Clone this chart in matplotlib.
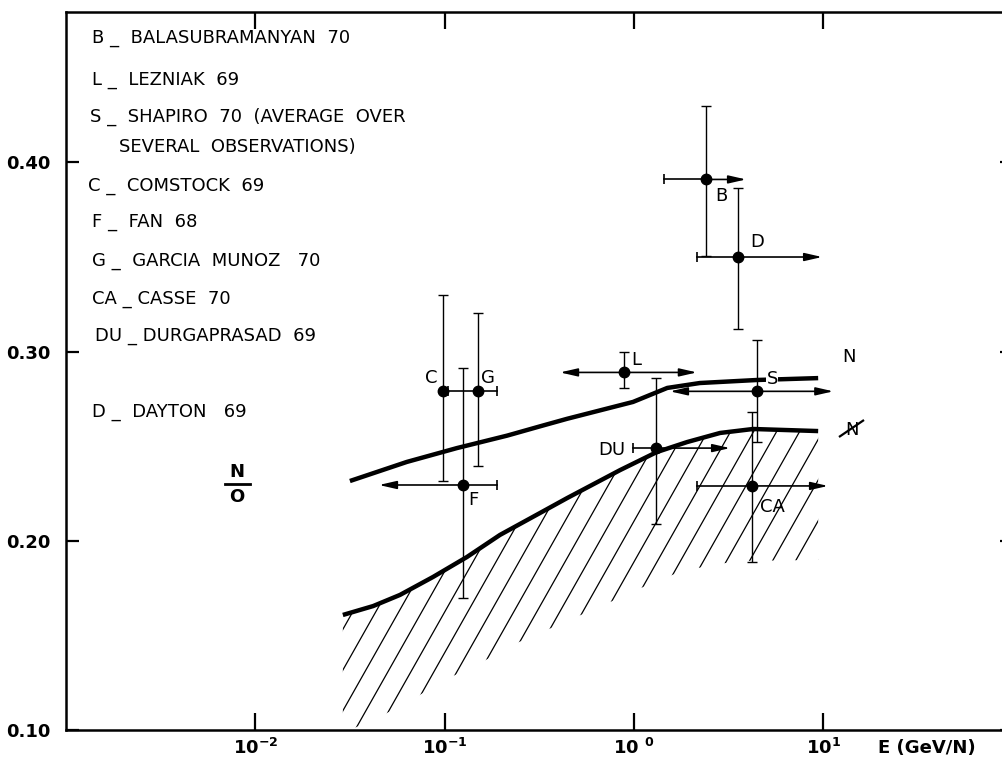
import numpy as np
import matplotlib
matplotlib.use('Agg')
import matplotlib.pyplot as plt
from matplotlib.patches import Polygon
from matplotlib.collections import LineCollection
from matplotlib.lines import Line2D

plt.rcParams['font.family'] = ['DejaVu Sans']
plt.rcParams['mathtext.default'] = 'bf'

# measurements of N/O ratio
labels = ['B', 'D', 'L', 'S', 'DU', 'CA', 'C', 'G', 'F']
energy = [2.40, 3.55, 0.887, 4.47, 1.31, 4.21, 0.098, 0.150, 0.125]
ratio = [0.391, 0.350, 0.289, 0.279, 0.249, 0.229, 0.279, 0.279, 0.2295]
ratio_lo = [0.3505, 0.312, 0.281, 0.252, 0.209, 0.189, 0.2316, 0.2395, 0.170]
ratio_hi = [0.430, 0.3865, 0.300, 0.306, 0.286, 0.268, 0.330, 0.3204, 0.2913]
energy_lo = [1.44, 2.15, 0.407, 1.55, 0.989, 2.15, None, 0.104, 0.045]
energy_hi = [3.91, 9.86, 2.15, 11.3, 3.22, 10.6, None, 0.189, 0.190]
left_end = ['cap', 'cap', 'arrow', 'arrow', 'cap', 'cap', None, 'cap', 'arrow']
right_end = ['arrow', 'arrow', 'arrow', 'arrow', 'arrow', 'arrow', None, 'cap', 'cap']

# where the point letters sit
label_E = [2.88, 4.47, 1.03, 5.37, 0.766, 5.37, 0.0847, 0.169, 0.141]
label_y = [0.382, 0.358, 0.2956, 0.2855, 0.248, 0.2179, 0.286, 0.286, 0.2216]

# curves
upper_E = [0.0316, 0.0632, 0.116, 0.214, 0.319, 0.444, 0.989, 1.50, 2.23, 4.47, 9.4]
upper_y = [0.2316, 0.2417, 0.249, 0.2556, 0.2605, 0.2645, 0.2734, 0.2808, 0.2834, 0.285, 0.286]
lower_E = [0.0290, 0.0419, 0.0581, 0.0869, 0.131, 0.196, 0.319, 0.444, 0.846, 1.32, 1.91, 2.85, 4.26, 9.4]
lower_y = [0.1608, 0.1655, 0.1714, 0.1809, 0.1914, 0.2031, 0.2147, 0.2226, 0.2374, 0.2469, 0.2522, 0.2570, 0.2591, 0.2580]

# bottom edge of the hatched band
hatch_E = [0.029, 0.0316, 0.0473, 0.0681, 0.100, 0.154, 0.241, 0.421, 0.729, 1.12, 1.69, 2.43, 3.55, 9.4]
hatch_y = [0.105, 0.100, 0.1079, 0.1164, 0.1264, 0.1354, 0.146, 0.1566, 0.1671, 0.1756, 0.183, 0.1867, 0.1893, 0.1899]

refs = [('B _  BALASUBRAMANYAN  70', 92, 38),
        ('L _  LEZNIAK  69', 92, 80),
        ('S _  SHAPIRO  70  (AVERAGE  OVER', 90, 117),
        ('SEVERAL  OBSERVATIONS)', 119, 147),
        ('C _  COMSTOCK  69', 88, 186),
        ('F _  FAN  68', 92, 222),
        ('G _  GARCIA  MUNOZ   70', 92, 261),
        ('CA _ CASSE  70', 92, 299),
        ('DU _ DURGAPRASAD  69', 95, 336),
        ('D _  DAYTON   69', 92, 412)]

xticks = [1e-2, 1e-1, 1, 10]
xticklabels = [r'$10^{-2}$', r'$10^{-1}$', r'$10\ ^{0}$', r'$10^{1}$']
yticks = [0.10, 0.20, 0.30, 0.40]
yticklabels = ['0.10', '0.20', '0.30', '0.40']

W, H = 1002, 761
fig = plt.figure(figsize=(W / 100, H / 100), dpi=100)
ax = fig.add_axes([66 / W, 31 / H, 946 / W, 718 / H])
ax.set_xscale('log')
ax.set_xlim(1e-3, 10 ** 1.997)
ax.set_ylim(0.10, 0.4795)

for s in ax.spines.values():
    s.set_linewidth(1.8)

ax.set_xticks(xticks)
ax.set_xticklabels(xticklabels, fontsize=13)
ax.xaxis.set_minor_locator(matplotlib.ticker.NullLocator())
ax.set_yticks(yticks)
ax.set_yticklabels(yticklabels, fontsize=13, fontweight='bold')
ax.tick_params(axis='x', direction='in', length=12, width=1.6, top=True, pad=6)
ax.tick_params(axis='y', direction='in', length=9, width=1.6, right=True, pad=11)

# hatched region under the lower curve
verts = list(zip(lower_E, lower_y)) + list(zip(hatch_E[::-1], hatch_y[::-1]))
band = Polygon(verts, closed=True, fill=False, edgecolor='none')
ax.add_patch(band)
slope = 1.77 * 946 / 718
step = 23 / 946
segs = []
for k in range(-40, 60):
    x0 = 0.3055 + k * step
    segs.append([(x0, 0), (x0 + 1 / slope, 1)])
hatch = LineCollection(segs, colors='black', linewidths=0.9, transform=ax.transAxes)
ax.add_collection(hatch)
hatch.set_clip_path(band)

ax.plot(upper_E, upper_y, color='black', lw=3.2, solid_capstyle='butt', zorder=3)
ax.plot(lower_E, lower_y, color='black', lw=3.2, solid_capstyle='butt', zorder=3)

# vertical error bars
ax.errorbar(energy, ratio, yerr=[np.array(ratio) - np.array(ratio_lo),
                                 np.array(ratio_hi) - np.array(ratio)],
            fmt='o', ms=7.5, color='black', elinewidth=1.0, capsize=3.5,
            capthick=1.0, zorder=5)

# horizontal error bars, arrows where open-ended
arrow = dict(arrowstyle='-|>,head_length=0.7,head_width=0.16', color='black',
             lw=1.2, shrinkA=0, shrinkB=0, mutation_scale=15)
for i in range(len(labels)):
    if energy_lo[i] is None:
        continue
    for end, e in ((left_end[i], energy_lo[i]), (right_end[i], energy_hi[i])):
        if end == 'arrow':
            ax.annotate('', xy=(e, ratio[i]), xytext=(energy[i], ratio[i]),
                        arrowprops=arrow, zorder=4)
        else:
            ax.plot([energy[i], e], [ratio[i], ratio[i]], color='black', lw=1.2, zorder=4)
            ax.plot([e], [ratio[i]], marker='|', ms=7, mew=1.2, color='black', zorder=4)

for i in range(len(labels)):
    bbox = None
    if labels[i] == 'S':
        # the N curve breaks around the S letter
        bbox = dict(facecolor='white', edgecolor='none', pad=0.3)
    ax.text(label_E[i], label_y[i], labels[i], fontsize=13, ha='center',
            va='center', bbox=bbox, zorder=6)

ax.text(13.7, 0.297, 'N', fontsize=13, ha='center', va='center')
# crossed-out N next to the lower curve
ax.text(14.2, 0.2586, 'N', fontsize=13, ha='center', va='center')
ax.plot([14.0], [0.2595], marker=[(-1, -0.68), (1, 0.68)], ms=18,
        mew=1.6, color='black', mfc='none')

for txt, px, py in refs:
    fig.text(px / W, 1 - py / H, txt, fontsize=13, ha='left', va='center')

# N over O
fig.text(237 / W, 1 - 472 / H, 'N', fontsize=13, fontweight='bold', ha='center', va='center')
fig.text(237 / W, 1 - 497 / H, 'O', fontsize=13, fontweight='bold', ha='center', va='center')
fig.add_artist(Line2D([225 / W, 250 / W], [1 - 484 / H] * 2, color='black', lw=2))

fig.text(878 / W, 1 - 748 / H, 'E (GeV/N)', fontsize=13, fontweight='bold',
         ha='left', va='center')

fig.savefig('out.png', dpi=100)
